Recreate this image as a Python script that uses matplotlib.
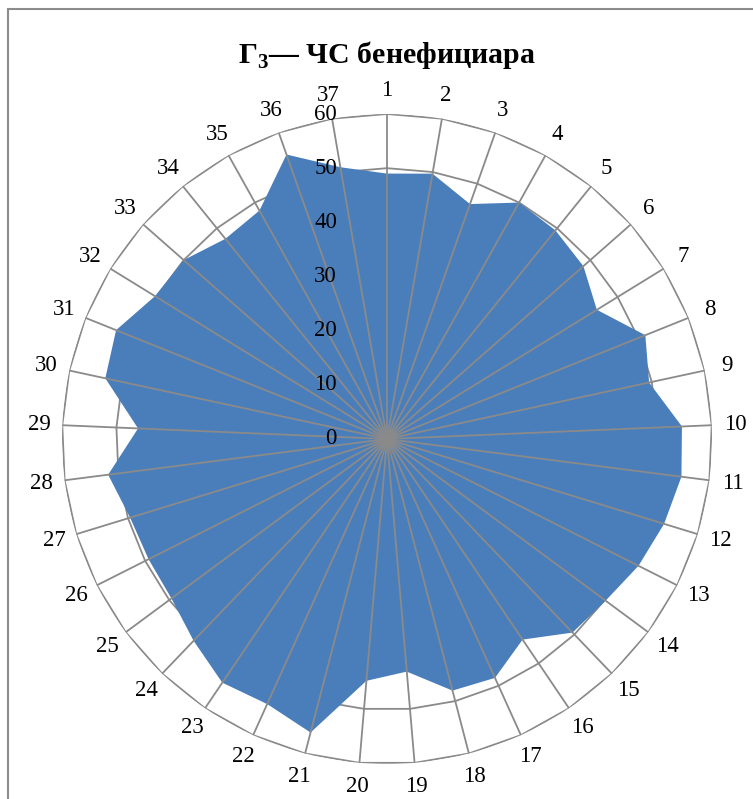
import numpy as np
import matplotlib
matplotlib.use("Agg")
from matplotlib import pyplot as plt
from matplotlib.patches import Rectangle

# categories 1..37 and values
categories = [str(i) for i in range(1, 38)]
values = [49, 49.7, 46, 50, 49.5, 48.3, 45.5, 51.4, 49.5, 54.5,
          54.8, 53.5, 52, 50.2, 49.5, 44.7, 48.4, 48, 43.1, 44.8,
          56, 53.7, 54.3, 51.6, 49.5, 49.3, 49.6, 51.9, 46, 53.2,
          53.9, 50.3, 50, 47.5, 48.3, 55.7, 50.9]
r_ticks = [0, 10, 20, 30, 40, 50, 60]
title = r"Г$_\mathbf{3}$— ЧС бенефициара"

fill_color = "#4a7ebb"
grid_color = "#8a8a8a"
serif = ["Liberation Serif", "DejaVu Serif"]
plt.rcParams["mathtext.fontset"] = "custom"
plt.rcParams["mathtext.rm"] = "Liberation Serif"
plt.rcParams["mathtext.bf"] = "Liberation Serif:bold"

fig = plt.figure(figsize=(7.53, 7.99), dpi=100)
W, H = 753, 799
cx, cy, R = 387, 439, 325
ax = fig.add_axes([(cx - R) / W, (H - cy - R) / H, 2 * R / W, 2 * R / H],
                  projection="polar")
ax.set_theta_zero_location("N")
ax.set_theta_direction(-1)
ax.set_ylim(0, 60)
ax.grid(False)
ax.set_xticks([])
ax.set_yticks([])
ax.spines["polar"].set_visible(False)
ax.patch.set_alpha(0)

n = len(categories)
theta = np.arange(n) * 2 * np.pi / n
theta_closed = np.append(theta, theta[0])

# polygon rings
for r in r_ticks[1:]:
    ax.plot(theta_closed, [r] * (n + 1), color=grid_color, lw=1.3, zorder=1)

# data area
vals = np.append(values, values[0])
ax.fill(theta_closed, vals, color=fill_color, lw=0, zorder=2)

# spokes on top
for t in theta:
    ax.plot([t, t], [0, 60], color=grid_color, lw=1.3, zorder=3)

# category labels
for t, lab in zip(theta, categories):
    ax.text(t, 64.3, lab, ha="center", va="center", fontsize=16.5,
            family=serif, zorder=4)

# value labels
for r in r_ticks:
    ax.annotate(str(r), xy=(0, r), xytext=(-50, 0), textcoords="offset pixels",
                ha="right", va="center", fontsize=16.5, family=serif, zorder=4)

fig.text(cx / W, 1 - 55 / H, title, ha="center", va="center", fontsize=21.5,
         fontweight="bold", family=serif)

# chart frame (right and bottom run off the image)
fig.add_artist(Rectangle((8 / W, -0.1), 1.2, 1 - 9 / H + 0.1,
                         transform=fig.transFigure, fill=False,
                         edgecolor="#8c8c8c", lw=1.5))

fig.savefig("out.png", dpi=100)
